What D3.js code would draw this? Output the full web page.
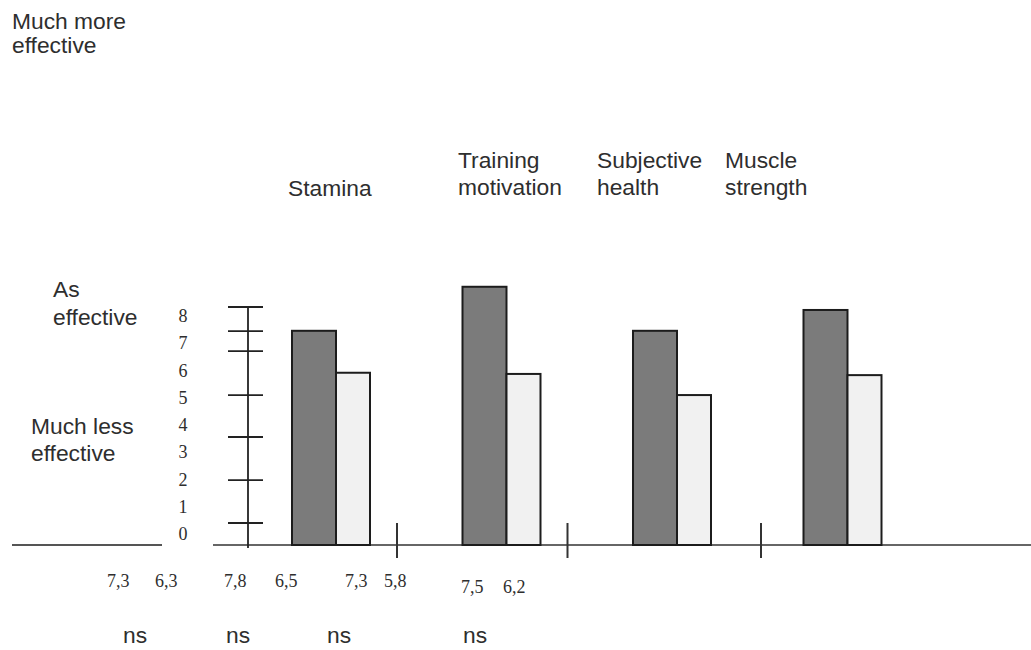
<!DOCTYPE html>
<html>
<head>
<meta charset="utf-8">
<script src="https://cdn.jsdelivr.net/npm/d3@7"></script>
<style>
  body { margin: 0; background: #fff; }
  text { fill: #2e2e2e; }
  .sans { font-family: "Liberation Sans", Arial, sans-serif; font-size: 22.8px; }
  .serif { font-family: "Liberation Serif", "Times New Roman", serif; font-size: 18px; }
</style>
</head>
<body>
<script>
"use-strict";

var width = 1031,
    height = 650;

// data
const categories = ["Stamina", "Training motivation", "Subjective health", "Muscle strength"];
const darkValues = [7.2, 8.68, 7.2, 7.9];
const lightValues = [5.79, 5.75, 5.04, 5.71];
const axisTicks = [0.74, 2.18, 3.63, 5.04, 6.52, 7.19, 8];
const axisLabels = ["0", "1", "2", "3", "4", "5", "6", "7", "8"];
const meanPairs = [["7,3", "6,3"], ["7,8", "6,5"], ["7,3", "5,8"], ["7,5", "6,2"]];
const signif = ["ns", "ns", "ns", "ns"];

let svg = d3.select("body")
    .append("svg")
    .attr("width", width)
    .attr("height", height);

let x = d3.scaleBand()
    .domain(categories)
    .range([292, 881.5])
    .paddingInner(0.5425)
    .paddingOuter(0);

let y = d3.scaleLinear()
    .domain([0, 8])
    .range([545, 307]);

let labelY = d3.scaleLinear()
    .domain([0, 8])
    .range([540, 322]);

// texts with several lines
function multiText(lines, tx, ty, lh, cls) {
    let t = svg.append("text").attr("class", cls);
    lines.forEach(function (l, i) {
        t.append("tspan").attr("x", tx).attr("y", ty + i * lh).text(l);
    });
}
multiText(["Much more", "effective"], 12, 29, 24, "sans");
multiText(["As", "effective"], 53, 297, 28, "sans");
multiText(["Much less", "effective"], 31, 434, 27, "sans");

// category headings
const headPos = [[288, 196], [458, 168], [597, 168], [725, 168]];
const headLines = [["Stamina"], ["Training", "motivation"], ["Subjective", "health"], ["Muscle", "strength"]];
headLines.forEach(function (lines, i) {
    multiText(lines, headPos[i][0], headPos[i][1], 27, "sans");
});

// baselines
svg.append("line")
    .attr("x1", 12).attr("x2", 162)
    .attr("y1", y(0)).attr("y2", y(0))
    .attr("stroke", "#555").attr("stroke-width", 2);
svg.append("line")
    .attr("x1", 213).attr("x2", width)
    .attr("y1", y(0)).attr("y2", y(0))
    .attr("stroke", "#333").attr("stroke-width", 1.6);

// axis
svg.append("line")
    .attr("x1", 248).attr("x2", 248)
    .attr("y1", y(8)).attr("y2", y(0) + 3)
    .attr("stroke", "#222").attr("stroke-width", 1.8);
svg.selectAll(".tick")
    .data(axisTicks)
    .enter()
    .append("line")
    .attr("x1", 228).attr("x2", 263)
    .attr("y1", d => y(d)).attr("y2", d => y(d))
    .attr("stroke", "#222").attr("stroke-width", 1.8);
svg.selectAll(".alab")
    .data(axisLabels)
    .enter()
    .append("text")
    .attr("class", "serif")
    .attr("text-anchor", "middle")
    .attr("x", 183)
    .attr("y", (d, i) => labelY(i))
    .text(d => d);

// bars
let bars = svg.append("g").attr("id", "bars");
bars.selectAll(".dark")
    .data(darkValues)
    .enter()
    .append("rect")
    .attr("x", (d, i) => x(categories[i]))
    .attr("y", d => y(d))
    .attr("width", 44)
    .attr("height", d => y(0) - y(d))
    .attr("fill", "#7b7b7b")
    .attr("stroke", "#1c1c1c")
    .attr("stroke-width", 2);
bars.selectAll(".light")
    .data(lightValues)
    .enter()
    .append("rect")
    .attr("x", (d, i) => x(categories[i]) + 44)
    .attr("y", d => y(d))
    .attr("width", 34)
    .attr("height", d => y(0) - y(d))
    .attr("fill", "#f1f1f1")
    .attr("stroke", "#1c1c1c")
    .attr("stroke-width", 2);

// small separators on the baseline
const sepOffset = [105, 105, 128];
sepOffset.forEach(function (o, i) {
    svg.append("line")
        .attr("x1", x(categories[i]) + o).attr("x2", x(categories[i]) + o)
        .attr("y1", y(0) - 22).attr("y2", y(0) + 13)
        .attr("stroke", "#333").attr("stroke-width", 2);
});

// means and significance below
const meanX = [[107, 155], [224, 275], [345, 384], [461, 503]];
const meanBase = [587, 587, 587, 593];
meanPairs.forEach(function (p, i) {
    p.forEach(function (v, j) {
        svg.append("text")
            .attr("class", "serif")
            .attr("x", meanX[i][j])
            .attr("y", meanBase[i])
            .text(v);
    });
});
const nsX = [123, 226, 327, 463];
svg.selectAll(".ns")
    .data(signif)
    .enter()
    .append("text")
    .attr("class", "sans")
    .attr("x", (d, i) => nsX[i])
    .attr("y", 643)
    .text(d => d);
</script>
</body>
</html>
